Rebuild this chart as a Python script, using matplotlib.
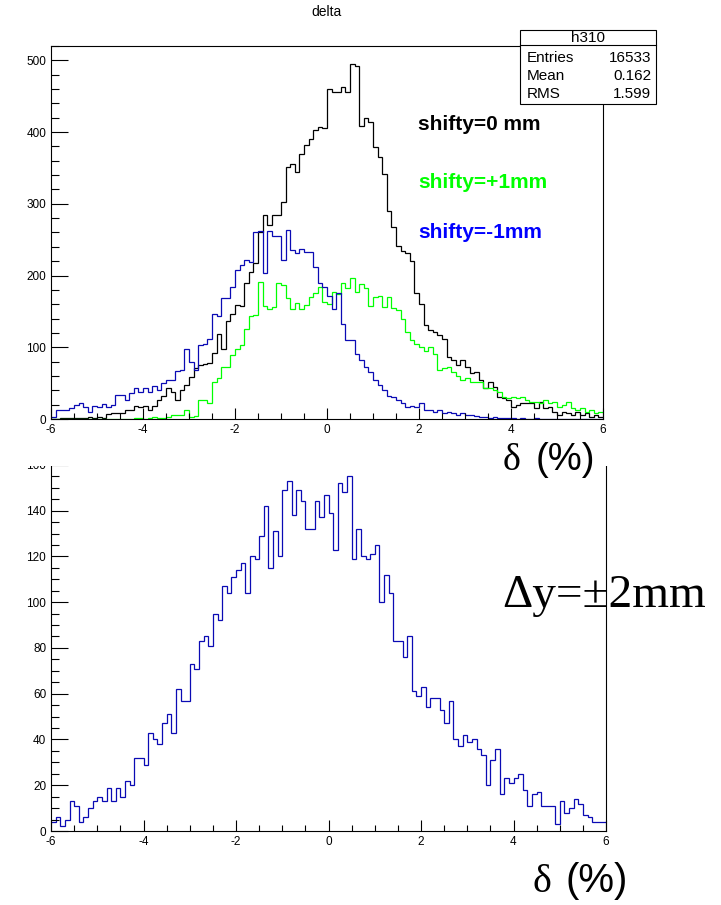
import numpy as np
import matplotlib
matplotlib.use("Agg")
import matplotlib.pyplot as plt
from matplotlib.patches import Rectangle
from matplotlib.lines import Line2D
from matplotlib.ticker import MultipleLocator

# ---- histogram contents: 120 bins of width 0.1 on delta in [-6, 6] ----
bin_edges = np.linspace(-6.0, 6.0, 121)

shift_0mm = [
    0, 0, 1, 1, 2, 2, 1, 2, 3, 2, 3, 2, 7, 8, 8, 8, 12, 13, 18, 17,
    18, 13, 18, 26, 32, 43, 37, 26, 40, 47, 59, 71, 75, 76, 78, 92, 118, 97, 136, 147,
    159, 157, 190, 205, 218, 261, 285, 270, 284, 284, 302, 351, 355, 345, 370, 382, 391, 403, 407, 405,
    460, 456, 456, 463, 456, 495, 492, 408, 420, 414, 379, 365, 341, 290, 267, 241, 234, 232, 220, 176,
    161, 131, 124, 121, 117, 111, 87, 82, 75, 82, 73, 64, 66, 54, 43, 52, 45, 31, 29, 26,
    17, 19, 22, 23, 22, 15, 24, 15, 17, 10, 6, 10, 8, 6, 10, 6, 8, 3, 6, 3,
]
shift_plus1mm = [
    0, 0, 0, 0, 0, 0, 0, 0, 0, 0, 0, 0, 0, 0, 0, 0, 0, 0, 2, 1,
    0, 1, 3, 1, 1, 3, 5, 5, 5, 13, 3, 4, 27, 27, 22, 51, 57, 73, 73, 89,
    97, 103, 126, 143, 145, 191, 157, 154, 156, 190, 187, 168, 153, 162, 154, 159, 170, 175, 184, 163,
    160, 177, 174, 189, 182, 197, 177, 188, 182, 157, 170, 171, 156, 170, 155, 152, 140, 121, 110, 104,
    101, 95, 101, 91, 69, 71, 73, 66, 60, 54, 57, 52, 51, 51, 43, 43, 41, 37, 31, 29,
    31, 29, 31, 26, 24, 24, 22, 26, 22, 24, 17, 19, 24, 15, 13, 15, 10, 13, 8, 10,
]
shift_minus1mm = [
    3, 12, 12, 12, 15, 20, 22, 17, 10, 18, 17, 21, 17, 19, 33, 33, 26, 36, 43, 38,
    43, 38, 46, 40, 50, 55, 54, 67, 69, 97, 80, 69, 103, 105, 112, 147, 143, 169, 168, 184,
    208, 215, 221, 219, 260, 262, 204, 262, 255, 255, 222, 263, 235, 232, 237, 233, 233, 212, 189, 184,
    172, 154, 175, 133, 110, 110, 91, 82, 73, 66, 54, 47, 40, 32, 30, 27, 22, 17, 18, 17,
    22, 13, 12, 10, 12, 8, 10, 8, 6, 8, 5, 5, 4, 3, 3, 2, 3, 2, 1, 1,
    1, 0, 1, 0, 0, 1, 0, 0, 0, 0, 0, 0, 0, 0, 0, 0, 0, 0, 0, 0,
]
shift_pm2mm = [
    4, 6, 2, 5, 13, 11, 4, 6, 10, 13, 15, 13, 19, 13, 19, 15, 22, 20, 32, 32,
    29, 43, 40, 38, 47, 51, 43, 62, 57, 57, 73, 71, 83, 85, 81, 95, 92, 107, 104, 111,
    114, 117, 104, 120, 119, 129, 142, 115, 131, 120, 149, 153, 138, 149, 144, 132, 132, 144, 137, 147,
    139, 123, 152, 148, 155, 119, 132, 120, 119, 121, 125, 100, 112, 104, 83, 83, 76, 85, 61, 59,
    63, 54, 58, 58, 53, 47, 57, 40, 37, 42, 39, 40, 36, 33, 20, 31, 36, 16, 23, 21,
    23, 25, 18, 11, 16, 17, 11, 11, 11, 3, 13, 8, 10, 14, 12, 7, 6, 4, 4, 4,
]

legend_labels = ["shifty=0 mm", "shifty=+1mm", "shifty=-1mm"]
stat_names = ["Entries", "Mean", "RMS"]
stat_values = ["16533", "0.162", "1.599"]

SANS = "Liberation Sans"
SERIF = "Liberation Serif"
plt.rcParams["font.family"] = [SANS, "DejaVu Sans"]
plt.rcParams["axes.unicode_minus"] = False

W, H = 721, 905
fig = plt.figure(figsize=(W / 100, H / 100), dpi=100)
fig.patch.set_facecolor("white")


def fx(x):
    return x / W


def fy(y):
    return 1.0 - y / H


def frame(ax, ymax, ymajor, yminor):
    ax.set_xlim(-6, 6)
    ax.set_ylim(0, ymax)
    ax.xaxis.set_major_locator(MultipleLocator(2))
    ax.xaxis.set_minor_locator(MultipleLocator(0.5))
    ax.yaxis.set_major_locator(MultipleLocator(ymajor))
    ax.yaxis.set_minor_locator(MultipleLocator(yminor))
    ax.tick_params(which="both", direction="in", top=False, right=False,
                   width=0.8, color="black", labelsize=8.5)
    ax.tick_params(axis="x", which="major", length=8, pad=3.5)
    ax.tick_params(axis="x", which="minor", length=4)
    ax.tick_params(axis="y", which="major", length=12, pad=3.5)
    ax.tick_params(axis="y", which="minor", length=6)
    for s in ax.spines.values():
        s.set_linewidth(0.8)
        s.set_color("black")


BLACK = "#000000"
GREEN = "#00ff00"
BLUE_LINE = "#0a0ab4"
BLUE_TEXT = "#0000ff"

# upper pad: three shifty settings
ax1 = fig.add_axes([fx(51), fy(419), fx(603) - fx(51), fy(46) - fy(419)])
ax1.set_zorder(2)
frame(ax1, 520, 100, 20)
ax1.stairs(shift_0mm, bin_edges, baseline=None, color=BLACK, lw=0.9)
ax1.stairs(shift_plus1mm, bin_edges, baseline=None, color=GREEN, lw=0.9)
ax1.stairs(shift_minus1mm, bin_edges, baseline=None, color=BLUE_LINE, lw=0.9)

# lower pad: combined +-2 mm
ax2 = fig.add_axes([fx(51), fy(831), fx(606) - fx(51), fy(458) - fy(831)])
ax2.set_zorder(0.5)
frame(ax2, 163, 20, 5)
ax2.stairs(shift_pm2mm, bin_edges, baseline=None, color=BLUE_LINE, lw=0.9)

# the upper pad overlaps the top of the lower one
cover = Rectangle((0, fy(466)), 1, fy(420.5) - fy(466), transform=fig.transFigure,
                  facecolor="white", edgecolor="none", zorder=1)
fig.add_artist(cover)

# title
fig.text(fx(327), fy(12), "delta", ha="center", va="center", fontsize=10, zorder=3)

# statistics box
bx0, by0, bx1, by1, bhead = 520, 30, 656, 104, 45
box = Rectangle((fx(bx0), fy(by1)), fx(bx1) - fx(bx0), fy(by0) - fy(by1),
                transform=fig.transFigure, facecolor="white", edgecolor="black",
                lw=0.8, zorder=3)
fig.add_artist(box)
fig.add_artist(Line2D([fx(bx0), fx(bx1)], [fy(bhead), fy(bhead)], transform=fig.transFigure,
                      color="black", lw=0.8, zorder=4))
fig.text(fx((bx0 + bx1) / 2), fy(37.5), "h310", ha="center", va="center", fontsize=11, zorder=5)
for k, (name, val) in enumerate(zip(stat_names, stat_values)):
    yy = fy(58 + 18 * k)
    fig.text(fx(527), yy, name, ha="left", va="center", fontsize=11, zorder=5)
    fig.text(fx(bx1 - 5), yy, val, ha="right", va="center", fontsize=11, zorder=5)

# legend labels
for label, col, yy in zip(legend_labels, [BLACK, GREEN, BLUE_TEXT], [125, 183, 232]):
    fig.text(fx(418), fy(yy), label, ha="left", va="center", fontsize=15,
             fontweight="bold", color=col, zorder=5)

# axis annotations
for xd, xp, yb, size in [(503, 536, 470, 27.5), (533, 566, 892, 29)]:
    fig.text(fx(xd), fy(yb), "\u03b4", family=[SERIF, "DejaVu Serif"], fontsize=size,
             ha="left", va="baseline", zorder=5)
    fig.text(fx(xp), fy(yb), "(%)", family=[SANS, "DejaVu Sans"], fontsize=size,
             ha="left", va="baseline", zorder=5)

fig.text(fx(502), fy(607), "\u0394y=\u00b12mm", family=[SERIF, "DejaVu Serif"], fontsize=34,
         ha="left", va="baseline", zorder=5)

fig.savefig("out.png", dpi=100, facecolor="white")
